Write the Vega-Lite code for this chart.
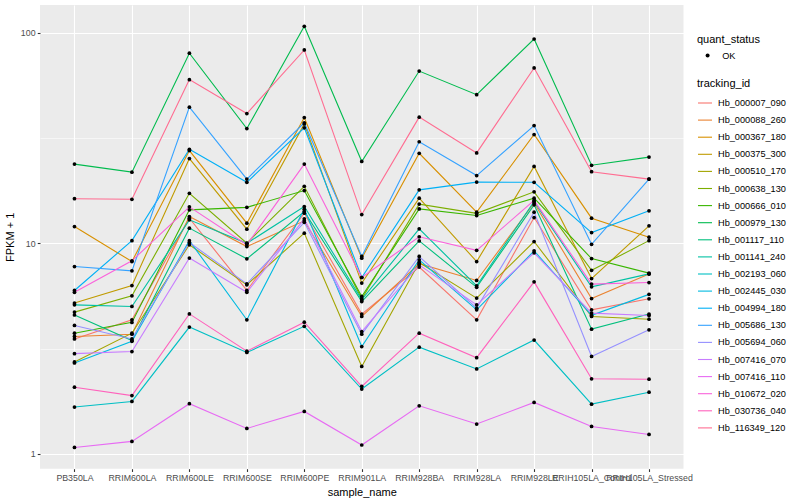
{
  "$schema": "https://vega.github.io/schema/vega-lite/v6.json",
  "autosize": "none",
  "width": 643.5,
  "height": 463.7,
  "padding": {"left": 40, "top": 5, "right": 116.5, "bottom": 31.3},
  "background": "#FFFFFF",
  "config": {
    "view": {"fill": "#EBEBEB", "stroke": null},
    "axis": {
      "domain": false, "grid": true, "gridColor": "#FFFFFF", "gridWidth": 1.1,
      "tickColor": "#333333", "tickSize": 2.75, "tickWidth": 1.1,
      "labelColor": "#4D4D4D", "labelFont": "Liberation Sans", "labelFontSize": 8.8,
      "titleFont": "Liberation Sans", "titleFontSize": 11, "titleFontWeight": "normal", "titleColor": "#000000"
    },
    "legend": {
      "titleFont": "Liberation Sans", "labelFont": "Liberation Sans", "titleFontWeight": "normal",
      "titleFontSize": 11, "labelFontSize": 9.2, "labelColor": "#000000", "titleColor": "#000000", "padding": 0, "labelLimit": 300
    }
  },
  "data": {"values": [
{"tracking_id":"Hb_000007_090","sample_name":"PB350LA","FPKM":3.51,"quant_status":"OK"},
{"tracking_id":"Hb_000007_090","sample_name":"RRIM600LA","FPKM":4.33,"quant_status":"OK"},
{"tracking_id":"Hb_000007_090","sample_name":"RRIM600LE","FPKM":13.17,"quant_status":"OK"},
{"tracking_id":"Hb_000007_090","sample_name":"RRIM600SE","FPKM":5.97,"quant_status":"OK"},
{"tracking_id":"Hb_000007_090","sample_name":"RRIM600PE","FPKM":13.91,"quant_status":"OK"},
{"tracking_id":"Hb_000007_090","sample_name":"RRIM901LA","FPKM":4.61,"quant_status":"OK"},
{"tracking_id":"Hb_000007_090","sample_name":"RRIM928BA","FPKM":7.71,"quant_status":"OK"},
{"tracking_id":"Hb_000007_090","sample_name":"RRIM928LA","FPKM":4.33,"quant_status":"OK"},
{"tracking_id":"Hb_000007_090","sample_name":"RRIM928LE","FPKM":13.26,"quant_status":"OK"},
{"tracking_id":"Hb_000007_090","sample_name":"RRIH105LA_Control","FPKM":4.83,"quant_status":"OK"},
{"tracking_id":"Hb_000007_090","sample_name":"RRIH105LA_Stressed","FPKM":5.45,"quant_status":"OK"},
{"tracking_id":"Hb_000088_260","sample_name":"PB350LA","FPKM":3.61,"quant_status":"OK"},
{"tracking_id":"Hb_000088_260","sample_name":"RRIM600LA","FPKM":3.70,"quant_status":"OK"},
{"tracking_id":"Hb_000088_260","sample_name":"RRIM600LE","FPKM":13.41,"quant_status":"OK"},
{"tracking_id":"Hb_000088_260","sample_name":"RRIM600SE","FPKM":9.65,"quant_status":"OK"},
{"tracking_id":"Hb_000088_260","sample_name":"RRIM600PE","FPKM":12.79,"quant_status":"OK"},
{"tracking_id":"Hb_000088_260","sample_name":"RRIM901LA","FPKM":4.49,"quant_status":"OK"},
{"tracking_id":"Hb_000088_260","sample_name":"RRIM928BA","FPKM":8.0,"quant_status":"OK"},
{"tracking_id":"Hb_000088_260","sample_name":"RRIM928LA","FPKM":6.66,"quant_status":"OK"},
{"tracking_id":"Hb_000088_260","sample_name":"RRIM928LE","FPKM":15.57,"quant_status":"OK"},
{"tracking_id":"Hb_000088_260","sample_name":"RRIH105LA_Control","FPKM":5.46,"quant_status":"OK"},
{"tracking_id":"Hb_000088_260","sample_name":"RRIH105LA_Stressed","FPKM":7.14,"quant_status":"OK"},
{"tracking_id":"Hb_000367_180","sample_name":"PB350LA","FPKM":12.02,"quant_status":"OK"},
{"tracking_id":"Hb_000367_180","sample_name":"RRIM600LA","FPKM":8.19,"quant_status":"OK"},
{"tracking_id":"Hb_000367_180","sample_name":"RRIM600LE","FPKM":27.6,"quant_status":"OK"},
{"tracking_id":"Hb_000367_180","sample_name":"RRIM600SE","FPKM":12.47,"quant_status":"OK"},
{"tracking_id":"Hb_000367_180","sample_name":"RRIM600PE","FPKM":39.6,"quant_status":"OK"},
{"tracking_id":"Hb_000367_180","sample_name":"RRIM901LA","FPKM":8.5,"quant_status":"OK"},
{"tracking_id":"Hb_000367_180","sample_name":"RRIM928BA","FPKM":26.8,"quant_status":"OK"},
{"tracking_id":"Hb_000367_180","sample_name":"RRIM928LA","FPKM":14.07,"quant_status":"OK"},
{"tracking_id":"Hb_000367_180","sample_name":"RRIM928LE","FPKM":32.9,"quant_status":"OK"},
{"tracking_id":"Hb_000367_180","sample_name":"RRIH105LA_Control","FPKM":13.17,"quant_status":"OK"},
{"tracking_id":"Hb_000367_180","sample_name":"RRIH105LA_Stressed","FPKM":10.7,"quant_status":"OK"},
{"tracking_id":"Hb_000375_300","sample_name":"PB350LA","FPKM":5.20,"quant_status":"OK"},
{"tracking_id":"Hb_000375_300","sample_name":"RRIM600LA","FPKM":6.30,"quant_status":"OK"},
{"tracking_id":"Hb_000375_300","sample_name":"RRIM600LE","FPKM":25.3,"quant_status":"OK"},
{"tracking_id":"Hb_000375_300","sample_name":"RRIM600SE","FPKM":11.68,"quant_status":"OK"},
{"tracking_id":"Hb_000375_300","sample_name":"RRIM600PE","FPKM":36.96,"quant_status":"OK"},
{"tracking_id":"Hb_000375_300","sample_name":"RRIM901LA","FPKM":6.47,"quant_status":"OK"},
{"tracking_id":"Hb_000375_300","sample_name":"RRIM928BA","FPKM":16.4,"quant_status":"OK"},
{"tracking_id":"Hb_000375_300","sample_name":"RRIM928LA","FPKM":8.19,"quant_status":"OK"},
{"tracking_id":"Hb_000375_300","sample_name":"RRIM928LE","FPKM":23.2,"quant_status":"OK"},
{"tracking_id":"Hb_000375_300","sample_name":"RRIH105LA_Control","FPKM":6.80,"quant_status":"OK"},
{"tracking_id":"Hb_000375_300","sample_name":"RRIH105LA_Stressed","FPKM":12.11,"quant_status":"OK"},
{"tracking_id":"Hb_000510_170","sample_name":"PB350LA","FPKM":2.73,"quant_status":"OK"},
{"tracking_id":"Hb_000510_170","sample_name":"RRIM600LA","FPKM":3.74,"quant_status":"OK"},
{"tracking_id":"Hb_000510_170","sample_name":"RRIM600LE","FPKM":9.84,"quant_status":"OK"},
{"tracking_id":"Hb_000510_170","sample_name":"RRIM600SE","FPKM":6.35,"quant_status":"OK"},
{"tracking_id":"Hb_000510_170","sample_name":"RRIM600PE","FPKM":11.18,"quant_status":"OK"},
{"tracking_id":"Hb_000510_170","sample_name":"RRIM901LA","FPKM":2.60,"quant_status":"OK"},
{"tracking_id":"Hb_000510_170","sample_name":"RRIM928BA","FPKM":8.11,"quant_status":"OK"},
{"tracking_id":"Hb_000510_170","sample_name":"RRIM928LA","FPKM":5.49,"quant_status":"OK"},
{"tracking_id":"Hb_000510_170","sample_name":"RRIM928LE","FPKM":10.2,"quant_status":"OK"},
{"tracking_id":"Hb_000510_170","sample_name":"RRIH105LA_Control","FPKM":4.49,"quant_status":"OK"},
{"tracking_id":"Hb_000510_170","sample_name":"RRIH105LA_Stressed","FPKM":4.36,"quant_status":"OK"},
{"tracking_id":"Hb_000638_130","sample_name":"PB350LA","FPKM":4.71,"quant_status":"OK"},
{"tracking_id":"Hb_000638_130","sample_name":"RRIM600LA","FPKM":5.63,"quant_status":"OK"},
{"tracking_id":"Hb_000638_130","sample_name":"RRIM600LE","FPKM":17.3,"quant_status":"OK"},
{"tracking_id":"Hb_000638_130","sample_name":"RRIM600SE","FPKM":10.02,"quant_status":"OK"},
{"tracking_id":"Hb_000638_130","sample_name":"RRIM600PE","FPKM":18.66,"quant_status":"OK"},
{"tracking_id":"Hb_000638_130","sample_name":"RRIM901LA","FPKM":5.45,"quant_status":"OK"},
{"tracking_id":"Hb_000638_130","sample_name":"RRIM928BA","FPKM":15.36,"quant_status":"OK"},
{"tracking_id":"Hb_000638_130","sample_name":"RRIM928LA","FPKM":13.88,"quant_status":"OK"},
{"tracking_id":"Hb_000638_130","sample_name":"RRIM928LE","FPKM":17.57,"quant_status":"OK"},
{"tracking_id":"Hb_000638_130","sample_name":"RRIH105LA_Control","FPKM":7.44,"quant_status":"OK"},
{"tracking_id":"Hb_000638_130","sample_name":"RRIH105LA_Stressed","FPKM":10.3,"quant_status":"OK"},
{"tracking_id":"Hb_000666_010","sample_name":"PB350LA","FPKM":3.74,"quant_status":"OK"},
{"tracking_id":"Hb_000666_010","sample_name":"RRIM600LA","FPKM":4.21,"quant_status":"OK"},
{"tracking_id":"Hb_000666_010","sample_name":"RRIM600LE","FPKM":14.43,"quant_status":"OK"},
{"tracking_id":"Hb_000666_010","sample_name":"RRIM600SE","FPKM":14.83,"quant_status":"OK"},
{"tracking_id":"Hb_000666_010","sample_name":"RRIM600PE","FPKM":17.82,"quant_status":"OK"},
{"tracking_id":"Hb_000666_010","sample_name":"RRIM901LA","FPKM":5.59,"quant_status":"OK"},
{"tracking_id":"Hb_000666_010","sample_name":"RRIM928BA","FPKM":14.58,"quant_status":"OK"},
{"tracking_id":"Hb_000666_010","sample_name":"RRIM928LA","FPKM":13.56,"quant_status":"OK"},
{"tracking_id":"Hb_000666_010","sample_name":"RRIM928LE","FPKM":16.4,"quant_status":"OK"},
{"tracking_id":"Hb_000666_010","sample_name":"RRIH105LA_Control","FPKM":8.46,"quant_status":"OK"},
{"tracking_id":"Hb_000666_010","sample_name":"RRIH105LA_Stressed","FPKM":7.22,"quant_status":"OK"},
{"tracking_id":"Hb_000979_130","sample_name":"PB350LA","FPKM":23.8,"quant_status":"OK"},
{"tracking_id":"Hb_000979_130","sample_name":"RRIM600LA","FPKM":21.8,"quant_status":"OK"},
{"tracking_id":"Hb_000979_130","sample_name":"RRIM600LE","FPKM":80.1,"quant_status":"OK"},
{"tracking_id":"Hb_000979_130","sample_name":"RRIM600SE","FPKM":35.1,"quant_status":"OK"},
{"tracking_id":"Hb_000979_130","sample_name":"RRIM600PE","FPKM":107.6,"quant_status":"OK"},
{"tracking_id":"Hb_000979_130","sample_name":"RRIM901LA","FPKM":24.5,"quant_status":"OK"},
{"tracking_id":"Hb_000979_130","sample_name":"RRIM928BA","FPKM":65.9,"quant_status":"OK"},
{"tracking_id":"Hb_000979_130","sample_name":"RRIM928LA","FPKM":50.9,"quant_status":"OK"},
{"tracking_id":"Hb_000979_130","sample_name":"RRIM928LE","FPKM":93.6,"quant_status":"OK"},
{"tracking_id":"Hb_000979_130","sample_name":"RRIH105LA_Control","FPKM":23.5,"quant_status":"OK"},
{"tracking_id":"Hb_000979_130","sample_name":"RRIH105LA_Stressed","FPKM":25.7,"quant_status":"OK"},
{"tracking_id":"Hb_001117_110","sample_name":"PB350LA","FPKM":4.57,"quant_status":"OK"},
{"tracking_id":"Hb_001117_110","sample_name":"RRIM600LA","FPKM":3.45,"quant_status":"OK"},
{"tracking_id":"Hb_001117_110","sample_name":"RRIM600LE","FPKM":11.81,"quant_status":"OK"},
{"tracking_id":"Hb_001117_110","sample_name":"RRIM600SE","FPKM":8.44,"quant_status":"OK"},
{"tracking_id":"Hb_001117_110","sample_name":"RRIM600PE","FPKM":14.16,"quant_status":"OK"},
{"tracking_id":"Hb_001117_110","sample_name":"RRIM901LA","FPKM":5.29,"quant_status":"OK"},
{"tracking_id":"Hb_001117_110","sample_name":"RRIM928BA","FPKM":10.27,"quant_status":"OK"},
{"tracking_id":"Hb_001117_110","sample_name":"RRIM928LA","FPKM":6.18,"quant_status":"OK"},
{"tracking_id":"Hb_001117_110","sample_name":"RRIM928LE","FPKM":15.24,"quant_status":"OK"},
{"tracking_id":"Hb_001117_110","sample_name":"RRIH105LA_Control","FPKM":3.91,"quant_status":"OK"},
{"tracking_id":"Hb_001117_110","sample_name":"RRIH105LA_Stressed","FPKM":4.61,"quant_status":"OK"},
{"tracking_id":"Hb_001141_240","sample_name":"PB350LA","FPKM":5.1,"quant_status":"OK"},
{"tracking_id":"Hb_001141_240","sample_name":"RRIM600LA","FPKM":5.01,"quant_status":"OK"},
{"tracking_id":"Hb_001141_240","sample_name":"RRIM600LE","FPKM":12.93,"quant_status":"OK"},
{"tracking_id":"Hb_001141_240","sample_name":"RRIM600SE","FPKM":10.0,"quant_status":"OK"},
{"tracking_id":"Hb_001141_240","sample_name":"RRIM600PE","FPKM":14.96,"quant_status":"OK"},
{"tracking_id":"Hb_001141_240","sample_name":"RRIM901LA","FPKM":5.4,"quant_status":"OK"},
{"tracking_id":"Hb_001141_240","sample_name":"RRIM928BA","FPKM":11.72,"quant_status":"OK"},
{"tracking_id":"Hb_001141_240","sample_name":"RRIM928LA","FPKM":6.28,"quant_status":"OK"},
{"tracking_id":"Hb_001141_240","sample_name":"RRIM928LE","FPKM":15.8,"quant_status":"OK"},
{"tracking_id":"Hb_001141_240","sample_name":"RRIH105LA_Control","FPKM":6.21,"quant_status":"OK"},
{"tracking_id":"Hb_001141_240","sample_name":"RRIH105LA_Stressed","FPKM":7.16,"quant_status":"OK"},
{"tracking_id":"Hb_002193_060","sample_name":"PB350LA","FPKM":1.667,"quant_status":"OK"},
{"tracking_id":"Hb_002193_060","sample_name":"RRIM600LA","FPKM":1.772,"quant_status":"OK"},
{"tracking_id":"Hb_002193_060","sample_name":"RRIM600LE","FPKM":4.0,"quant_status":"OK"},
{"tracking_id":"Hb_002193_060","sample_name":"RRIM600SE","FPKM":3.03,"quant_status":"OK"},
{"tracking_id":"Hb_002193_060","sample_name":"RRIM600PE","FPKM":4.03,"quant_status":"OK"},
{"tracking_id":"Hb_002193_060","sample_name":"RRIM901LA","FPKM":2.03,"quant_status":"OK"},
{"tracking_id":"Hb_002193_060","sample_name":"RRIM928BA","FPKM":3.21,"quant_status":"OK"},
{"tracking_id":"Hb_002193_060","sample_name":"RRIM928LA","FPKM":2.53,"quant_status":"OK"},
{"tracking_id":"Hb_002193_060","sample_name":"RRIM928LE","FPKM":3.47,"quant_status":"OK"},
{"tracking_id":"Hb_002193_060","sample_name":"RRIH105LA_Control","FPKM":1.72,"quant_status":"OK"},
{"tracking_id":"Hb_002193_060","sample_name":"RRIH105LA_Stressed","FPKM":1.96,"quant_status":"OK"},
{"tracking_id":"Hb_002445_030","sample_name":"PB350LA","FPKM":2.70,"quant_status":"OK"},
{"tracking_id":"Hb_002445_030","sample_name":"RRIM600LA","FPKM":3.42,"quant_status":"OK"},
{"tracking_id":"Hb_002445_030","sample_name":"RRIM600LE","FPKM":10.3,"quant_status":"OK"},
{"tracking_id":"Hb_002445_030","sample_name":"RRIM600SE","FPKM":4.33,"quant_status":"OK"},
{"tracking_id":"Hb_002445_030","sample_name":"RRIM600PE","FPKM":14.54,"quant_status":"OK"},
{"tracking_id":"Hb_002445_030","sample_name":"RRIM901LA","FPKM":3.23,"quant_status":"OK"},
{"tracking_id":"Hb_002445_030","sample_name":"RRIM928BA","FPKM":8.35,"quant_status":"OK"},
{"tracking_id":"Hb_002445_030","sample_name":"RRIM928LA","FPKM":4.83,"quant_status":"OK"},
{"tracking_id":"Hb_002445_030","sample_name":"RRIM928LE","FPKM":9.21,"quant_status":"OK"},
{"tracking_id":"Hb_002445_030","sample_name":"RRIH105LA_Control","FPKM":4.55,"quant_status":"OK"},
{"tracking_id":"Hb_002445_030","sample_name":"RRIH105LA_Stressed","FPKM":5.72,"quant_status":"OK"},
{"tracking_id":"Hb_004994_180","sample_name":"PB350LA","FPKM":5.97,"quant_status":"OK"},
{"tracking_id":"Hb_004994_180","sample_name":"RRIM600LA","FPKM":10.3,"quant_status":"OK"},
{"tracking_id":"Hb_004994_180","sample_name":"RRIM600LE","FPKM":28.0,"quant_status":"OK"},
{"tracking_id":"Hb_004994_180","sample_name":"RRIM600SE","FPKM":19.5,"quant_status":"OK"},
{"tracking_id":"Hb_004994_180","sample_name":"RRIM600PE","FPKM":35.4,"quant_status":"OK"},
{"tracking_id":"Hb_004994_180","sample_name":"RRIM901LA","FPKM":6.88,"quant_status":"OK"},
{"tracking_id":"Hb_004994_180","sample_name":"RRIM928BA","FPKM":17.96,"quant_status":"OK"},
{"tracking_id":"Hb_004994_180","sample_name":"RRIM928LA","FPKM":19.55,"quant_status":"OK"},
{"tracking_id":"Hb_004994_180","sample_name":"RRIM928LE","FPKM":19.5,"quant_status":"OK"},
{"tracking_id":"Hb_004994_180","sample_name":"RRIH105LA_Control","FPKM":11.25,"quant_status":"OK"},
{"tracking_id":"Hb_004994_180","sample_name":"RRIH105LA_Stressed","FPKM":14.27,"quant_status":"OK"},
{"tracking_id":"Hb_005686_130","sample_name":"PB350LA","FPKM":7.76,"quant_status":"OK"},
{"tracking_id":"Hb_005686_130","sample_name":"RRIM600LA","FPKM":7.40,"quant_status":"OK"},
{"tracking_id":"Hb_005686_130","sample_name":"RRIM600LE","FPKM":44.4,"quant_status":"OK"},
{"tracking_id":"Hb_005686_130","sample_name":"RRIM600SE","FPKM":20.2,"quant_status":"OK"},
{"tracking_id":"Hb_005686_130","sample_name":"RRIM600PE","FPKM":37.4,"quant_status":"OK"},
{"tracking_id":"Hb_005686_130","sample_name":"RRIM901LA","FPKM":8.66,"quant_status":"OK"},
{"tracking_id":"Hb_005686_130","sample_name":"RRIM928BA","FPKM":30.4,"quant_status":"OK"},
{"tracking_id":"Hb_005686_130","sample_name":"RRIM928LA","FPKM":21.0,"quant_status":"OK"},
{"tracking_id":"Hb_005686_130","sample_name":"RRIM928LE","FPKM":36.3,"quant_status":"OK"},
{"tracking_id":"Hb_005686_130","sample_name":"RRIH105LA_Control","FPKM":9.89,"quant_status":"OK"},
{"tracking_id":"Hb_005686_130","sample_name":"RRIH105LA_Stressed","FPKM":20.2,"quant_status":"OK"},
{"tracking_id":"Hb_005694_060","sample_name":"PB350LA","FPKM":4.07,"quant_status":"OK"},
{"tracking_id":"Hb_005694_060","sample_name":"RRIM600LA","FPKM":3.51,"quant_status":"OK"},
{"tracking_id":"Hb_005694_060","sample_name":"RRIM600LE","FPKM":10.09,"quant_status":"OK"},
{"tracking_id":"Hb_005694_060","sample_name":"RRIM600SE","FPKM":6.42,"quant_status":"OK"},
{"tracking_id":"Hb_005694_060","sample_name":"RRIM600PE","FPKM":12.58,"quant_status":"OK"},
{"tracking_id":"Hb_005694_060","sample_name":"RRIM901LA","FPKM":3.70,"quant_status":"OK"},
{"tracking_id":"Hb_005694_060","sample_name":"RRIM928BA","FPKM":8.66,"quant_status":"OK"},
{"tracking_id":"Hb_005694_060","sample_name":"RRIM928LA","FPKM":4.92,"quant_status":"OK"},
{"tracking_id":"Hb_005694_060","sample_name":"RRIM928LE","FPKM":14.07,"quant_status":"OK"},
{"tracking_id":"Hb_005694_060","sample_name":"RRIH105LA_Control","FPKM":2.90,"quant_status":"OK"},
{"tracking_id":"Hb_005694_060","sample_name":"RRIH105LA_Stressed","FPKM":3.88,"quant_status":"OK"},
{"tracking_id":"Hb_007416_070","sample_name":"PB350LA","FPKM":2.99,"quant_status":"OK"},
{"tracking_id":"Hb_007416_070","sample_name":"RRIM600LA","FPKM":3.06,"quant_status":"OK"},
{"tracking_id":"Hb_007416_070","sample_name":"RRIM600LE","FPKM":8.51,"quant_status":"OK"},
{"tracking_id":"Hb_007416_070","sample_name":"RRIM600SE","FPKM":5.85,"quant_status":"OK"},
{"tracking_id":"Hb_007416_070","sample_name":"RRIM600PE","FPKM":13.07,"quant_status":"OK"},
{"tracking_id":"Hb_007416_070","sample_name":"RRIM901LA","FPKM":3.81,"quant_status":"OK"},
{"tracking_id":"Hb_007416_070","sample_name":"RRIM928BA","FPKM":7.90,"quant_status":"OK"},
{"tracking_id":"Hb_007416_070","sample_name":"RRIM928LA","FPKM":5.10,"quant_status":"OK"},
{"tracking_id":"Hb_007416_070","sample_name":"RRIM928LE","FPKM":9.01,"quant_status":"OK"},
{"tracking_id":"Hb_007416_070","sample_name":"RRIH105LA_Control","FPKM":4.66,"quant_status":"OK"},
{"tracking_id":"Hb_007416_070","sample_name":"RRIH105LA_Stressed","FPKM":4.54,"quant_status":"OK"},
{"tracking_id":"Hb_007416_110","sample_name":"PB350LA","FPKM":1.071,"quant_status":"OK"},
{"tracking_id":"Hb_007416_110","sample_name":"RRIM600LA","FPKM":1.144,"quant_status":"OK"},
{"tracking_id":"Hb_007416_110","sample_name":"RRIM600LE","FPKM":1.728,"quant_status":"OK"},
{"tracking_id":"Hb_007416_110","sample_name":"RRIM600SE","FPKM":1.319,"quant_status":"OK"},
{"tracking_id":"Hb_007416_110","sample_name":"RRIM600PE","FPKM":1.588,"quant_status":"OK"},
{"tracking_id":"Hb_007416_110","sample_name":"RRIM901LA","FPKM":1.100,"quant_status":"OK"},
{"tracking_id":"Hb_007416_110","sample_name":"RRIM928BA","FPKM":1.690,"quant_status":"OK"},
{"tracking_id":"Hb_007416_110","sample_name":"RRIM928LA","FPKM":1.384,"quant_status":"OK"},
{"tracking_id":"Hb_007416_110","sample_name":"RRIM928LE","FPKM":1.753,"quant_status":"OK"},
{"tracking_id":"Hb_007416_110","sample_name":"RRIH105LA_Control","FPKM":1.348,"quant_status":"OK"},
{"tracking_id":"Hb_007416_110","sample_name":"RRIH105LA_Stressed","FPKM":1.235,"quant_status":"OK"},
{"tracking_id":"Hb_010672_020","sample_name":"PB350LA","FPKM":5.85,"quant_status":"OK"},
{"tracking_id":"Hb_010672_020","sample_name":"RRIM600LA","FPKM":8.26,"quant_status":"OK"},
{"tracking_id":"Hb_010672_020","sample_name":"RRIM600LE","FPKM":14.91,"quant_status":"OK"},
{"tracking_id":"Hb_010672_020","sample_name":"RRIM600SE","FPKM":9.84,"quant_status":"OK"},
{"tracking_id":"Hb_010672_020","sample_name":"RRIM600PE","FPKM":23.8,"quant_status":"OK"},
{"tracking_id":"Hb_010672_020","sample_name":"RRIM901LA","FPKM":6.88,"quant_status":"OK"},
{"tracking_id":"Hb_010672_020","sample_name":"RRIM928BA","FPKM":10.74,"quant_status":"OK"},
{"tracking_id":"Hb_010672_020","sample_name":"RRIM928LA","FPKM":9.26,"quant_status":"OK"},
{"tracking_id":"Hb_010672_020","sample_name":"RRIM928LE","FPKM":16.0,"quant_status":"OK"},
{"tracking_id":"Hb_010672_020","sample_name":"RRIH105LA_Control","FPKM":6.40,"quant_status":"OK"},
{"tracking_id":"Hb_010672_020","sample_name":"RRIH105LA_Stressed","FPKM":6.51,"quant_status":"OK"},
{"tracking_id":"Hb_030736_040","sample_name":"PB350LA","FPKM":2.07,"quant_status":"OK"},
{"tracking_id":"Hb_030736_040","sample_name":"RRIM600LA","FPKM":1.89,"quant_status":"OK"},
{"tracking_id":"Hb_030736_040","sample_name":"RRIM600LE","FPKM":4.62,"quant_status":"OK"},
{"tracking_id":"Hb_030736_040","sample_name":"RRIM600SE","FPKM":3.07,"quant_status":"OK"},
{"tracking_id":"Hb_030736_040","sample_name":"RRIM600PE","FPKM":4.22,"quant_status":"OK"},
{"tracking_id":"Hb_030736_040","sample_name":"RRIM901LA","FPKM":2.09,"quant_status":"OK"},
{"tracking_id":"Hb_030736_040","sample_name":"RRIM928BA","FPKM":3.74,"quant_status":"OK"},
{"tracking_id":"Hb_030736_040","sample_name":"RRIM928LA","FPKM":2.86,"quant_status":"OK"},
{"tracking_id":"Hb_030736_040","sample_name":"RRIM928LE","FPKM":6.56,"quant_status":"OK"},
{"tracking_id":"Hb_030736_040","sample_name":"RRIH105LA_Control","FPKM":2.27,"quant_status":"OK"},
{"tracking_id":"Hb_030736_040","sample_name":"RRIH105LA_Stressed","FPKM":2.26,"quant_status":"OK"},
{"tracking_id":"Hb_116349_120","sample_name":"PB350LA","FPKM":16.3,"quant_status":"OK"},
{"tracking_id":"Hb_116349_120","sample_name":"RRIM600LA","FPKM":16.2,"quant_status":"OK"},
{"tracking_id":"Hb_116349_120","sample_name":"RRIM600LE","FPKM":60.0,"quant_status":"OK"},
{"tracking_id":"Hb_116349_120","sample_name":"RRIM600SE","FPKM":41.4,"quant_status":"OK"},
{"tracking_id":"Hb_116349_120","sample_name":"RRIM600PE","FPKM":83.0,"quant_status":"OK"},
{"tracking_id":"Hb_116349_120","sample_name":"RRIM901LA","FPKM":13.7,"quant_status":"OK"},
{"tracking_id":"Hb_116349_120","sample_name":"RRIM928BA","FPKM":39.8,"quant_status":"OK"},
{"tracking_id":"Hb_116349_120","sample_name":"RRIM928LA","FPKM":26.9,"quant_status":"OK"},
{"tracking_id":"Hb_116349_120","sample_name":"RRIM928LE","FPKM":68.2,"quant_status":"OK"},
{"tracking_id":"Hb_116349_120","sample_name":"RRIH105LA_Control","FPKM":21.9,"quant_status":"OK"},
{"tracking_id":"Hb_116349_120","sample_name":"RRIH105LA_Stressed","FPKM":20.2,"quant_status":"OK"}
  ]},
  "encoding": {
    "x": {
      "field": "sample_name", "type": "nominal",
      "sort": ["PB350LA","RRIM600LA","RRIM600LE","RRIM600SE","RRIM600PE","RRIM901LA","RRIM928BA","RRIM928LA","RRIM928LE","RRIH105LA_Control","RRIH105LA_Stressed"],
      "scale": {"type": "point", "padding": 0.6},
      "axis": {"labelAngle": 0, "labelOverlap": false, "labelBound": false, "labelFlush": false, "labelPadding": 2.2, "titlePadding": 4, "title": "sample_name"}
    },
    "y": {
      "field": "FPKM", "type": "quantitative",
      "scale": {"type": "log", "domain": [0.8487, 135.8], "nice": false, "zero": false},
      "axis": {
        "title": "FPKM + 1", "titlePadding": 5, "labelPadding": 2.2,
        "values": [1, 3.16228, 10, 31.6228, 100],
        "labelExpr": "datum.value == 1 || datum.value == 10 || datum.value == 100 ? format(datum.value, 'd') : ''",
        "gridWidth": {"condition": {"test": "datum.value == 1 || datum.value == 10 || datum.value == 100", "value": 1.1}, "value": 0.55},
        "tickOpacity": {"condition": {"test": "datum.value == 1 || datum.value == 10 || datum.value == 100", "value": 1}, "value": 0}
      }
    }
  },
  "layer": [
    {
      "mark": {"type": "line", "strokeWidth": 1.1},
      "encoding": {
        "color": {
          "field": "tracking_id", "type": "nominal",
          "scale": {
            "domain": ["Hb_000007_090","Hb_000088_260","Hb_000367_180","Hb_000375_300","Hb_000510_170","Hb_000638_130","Hb_000666_010","Hb_000979_130","Hb_001117_110","Hb_001141_240","Hb_002193_060","Hb_002445_030","Hb_004994_180","Hb_005686_130","Hb_005694_060","Hb_007416_070","Hb_007416_110","Hb_010672_020","Hb_030736_040","Hb_116349_120"],
            "range": ["#F8766D","#EA8331","#D89000","#C09B00","#A3A500","#7CAE00","#39B600","#00BB4E","#00BF7D","#00C1A3","#00BFC4","#00BAE0","#00B0F6","#35A2FF","#9590FF","#C77CFF","#E76BF3","#FA62DB","#FF62BC","#FF6C91"]
          },
          "legend": {
            "title": "tracking_id", "orient": "none", "legendX": 657, "legendY": 73,
            "symbolType": "stroke", "symbolSize": 196, "symbolStrokeWidth": 1.1,
            "rowPadding": 3.1, "titlePadding": 6, "labelOffset": 5
          }
        }
      }
    },
    {
      "mark": {"type": "point", "filled": true, "color": "#000000", "opacity": 1, "size": 14},
      "encoding": {
        "shape": {
          "field": "quant_status", "type": "nominal",
          "scale": {"range": ["circle"]},
          "legend": {
            "title": "quant_status", "orient": "none", "legendX": 657, "legendY": 29,
            "symbolSize": 16, "symbolFillColor": "#000000", "symbolStrokeColor": "#000000",
            "symbolOffset": 6, "labelOffset": 10, "titlePadding": 6
          }
        }
      }
    }
  ]
}
